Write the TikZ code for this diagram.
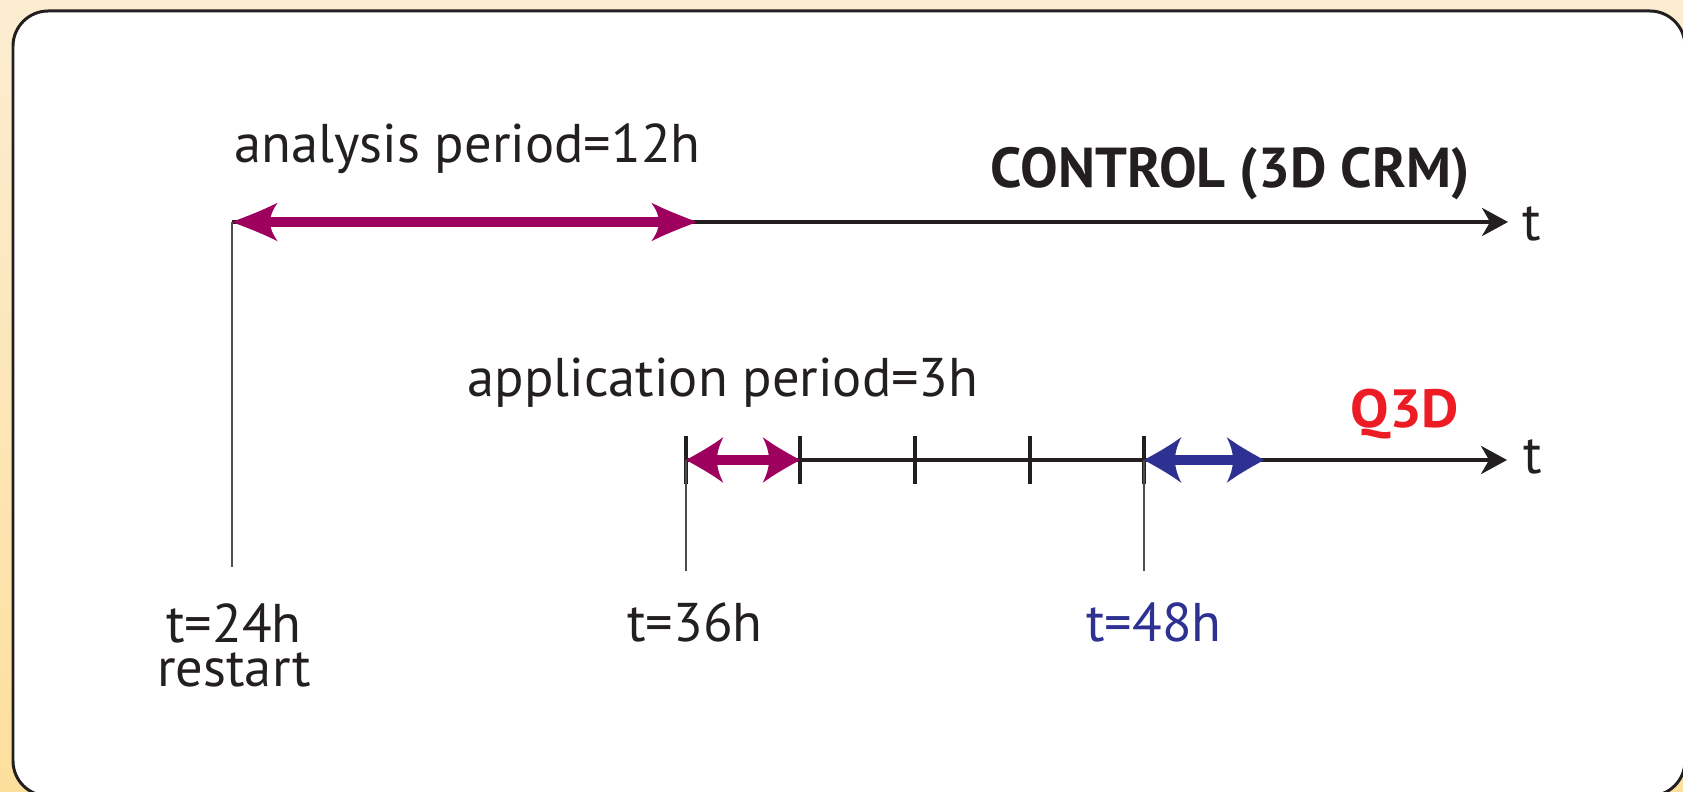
\documentclass[tikz,border=0pt]{standalone}
\usepackage{fontspec}
\setmainfont{PT Sans}
\newfontfamily\widefont[FakeStretch=1.07]{PT Sans}
\usetikzlibrary{arrows.meta}

\definecolor{ink}{HTML}{231F20}
\definecolor{mag}{HTML}{9E005D}
\definecolor{qblue}{HTML}{2E3192}
\definecolor{qred}{HTML}{ED1C24}
\definecolor{bgtop}{HTML}{FCEDD2}
\definecolor{bgbot}{HTML}{FDDF9C}

% swept double-barbed arrow head with curved back edges
\newdimen\flareA
\pgfdeclarearrow{
  name = Flare,
  parameters = {\the\pgfarrowlength,\the\pgfarrowwidth,\the\pgfarrowinset},
  setup code = {
    \flareA=\pgfarrowinset \advance\flareA by -\pgfarrowlength
    \pgfarrowssettipend{0pt}
    \pgfarrowssetbackend{-\pgfarrowlength}
    \pgfarrowssetvisualbackend{-\pgfarrowlength}
    \pgfarrowssetlineend{\flareA}
    \pgfarrowsupperhullpoint{-\pgfarrowlength}{.5\pgfarrowwidth}
    \pgfarrowsupperhullpoint{0pt}{0pt}
    \pgfarrowssavethe\pgfarrowlength
    \pgfarrowssavethe\pgfarrowwidth
    \pgfarrowssavethe\pgfarrowinset
  },
  drawing code = {
    \flareA=\pgfarrowinset \advance\flareA by -\pgfarrowlength
    \pgfpathmoveto{\pgfpointorigin}
    \pgfpathcurveto{\pgfpoint{-.33\pgfarrowlength}{.15\pgfarrowwidth}}
                   {\pgfpoint{-.67\pgfarrowlength}{.3\pgfarrowwidth}}
                   {\pgfpoint{-\pgfarrowlength}{.5\pgfarrowwidth}}
    \pgfpathquadraticcurveto{\pgfpoint{\flareA}{.22\pgfarrowwidth}}
                            {\pgfpoint{\flareA}{0pt}}
    \pgfpathquadraticcurveto{\pgfpoint{\flareA}{-.22\pgfarrowwidth}}
                            {\pgfpoint{-\pgfarrowlength}{-.5\pgfarrowwidth}}
    \pgfpathcurveto{\pgfpoint{-.67\pgfarrowlength}{-.3\pgfarrowwidth}}
                   {\pgfpoint{-.33\pgfarrowlength}{-.15\pgfarrowwidth}}
                   {\pgfpointorigin}
    \pgfpathclose
    \pgfusepathqfill
  },
  defaults = {length=12pt, width=10pt, inset=2.5pt}
}

\tikzset{
  lbl/.style={font=\fontsize{15.5}{18}\selectfont, text=ink, inner sep=0pt},
  stacked/.style={font=\fontsize{15.5}{12.5}\selectfont, text=ink, inner sep=0pt, align=center},
  heading/.style={font=\bfseries\fontsize{16}{19}\selectfont, text=ink, inner sep=0pt},
  q3dlbl/.style={font=\widefont\bfseries\fontsize{15.3}{18}\selectfont, text=qred, inner sep=0pt},
  axis/.style={draw=ink, line width=1pt,
    arrows={-Stealth[length=7.4pt, width=8pt, inset=2.3pt]}},
  guide/.style={draw=ink!80, line width=0.4pt},
  tickmark/.style={draw=ink, line width=1.1pt},
  longspan/.style={color=mag, line width=2.6pt,
    arrows={Flare[length=13pt, width=11pt, inset=2.2pt]-Flare[length=13pt, width=11pt, inset=2.2pt]}},
  shortspan/.style={line width=2.7pt,
    arrows={Flare[length=10.6pt, width=13pt, inset=1.8pt]-Flare[length=10.6pt, width=13pt, inset=1.8pt]}},
}

\begin{document}
\begin{tikzpicture}[x=0.01cm, y=-0.01cm]
  \useasboundingbox (0,0) rectangle (1683,792);
  \clip (0,0) rectangle (1683,792);
  \shade[top color=bgtop, bottom color=bgbot] (0,0) rectangle (1683,792);
  \draw[ink, line width=0.85pt, fill=white, rounded corners=10pt] (13,11) rectangle (1685,796);

  % key instants
  \coordinate (c24) at (232,222);
  \coordinate (c36u) at (697,222);
  \coordinate (endu) at (1508,222);
  \coordinate (c24f) at (232,567);
  \coordinate (k0) at (686,460);
  \coordinate (k1) at (800,460);
  \coordinate (k2) at (915,460);
  \coordinate (k3) at (1030,460);
  \coordinate (k4) at (1144,460);
  \coordinate (b48) at (1264,460);
  \coordinate (endl) at (1507,460);

  % upper time line: full 3D run
  \draw[axis] (c24) -- (endu);
  \draw[longspan] (c24) -- (c36u);
  \draw[guide] (c24) -- (c24f);

  % lower time line: Q3D run
  \draw[axis] (k0) -- (endl);
  \foreach \k in {k0,k1,k2,k3,k4}
    \draw[tickmark] (\k) ++(0,-24) -- ++(0,48);
  \draw[guide] (k0) -- ++(0,111);
  \draw[guide] (k4) -- ++(0,111);
  \draw[shortspan, color=mag] (k0) -- (k1);
  \draw[shortspan, color=qblue] (k4) -- (b48);

  % labels
  \node[lbl, anchor=base west] (ana) at (234,163) {analysis period=12h};
  \node[heading, anchor=base west] (ctrl) at (990,188) {CONTROL (3D CRM)};
  \node[lbl, anchor=base west] (tu) at (1522,241) {t};
  \node[lbl, anchor=base west] (app) at (467,397) {application period=3h};
  \node[q3dlbl, anchor=base west] (q3d) at (1350,428) {Q3D};
  \node[lbl, anchor=base west] (tl) at (1523,474) {t};
  \node[stacked, anchor=base] (l24) at (234,686) {t=24h\\restart};
  \node[lbl, anchor=base] (l36) at (695,642) {t=36h};
  \node[lbl, anchor=base, text=qblue] (l48) at (1154,642) {t=48h};
\end{tikzpicture}
\end{document}
